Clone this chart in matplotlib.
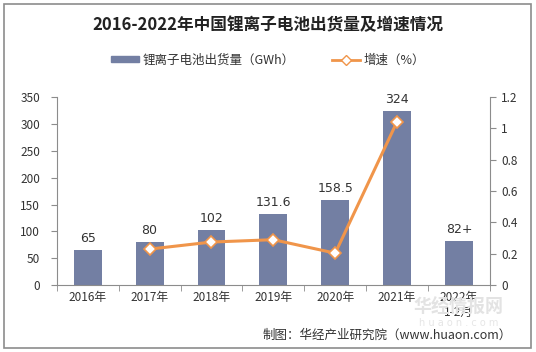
import matplotlib.pyplot as plt
from matplotlib.patches import Rectangle
from matplotlib.ticker import FuncFormatter

plt.switch_backend('agg')
plt.rcParams['font.family'] = ['Noto Sans CJK SC', 'DejaVu Sans']

# 数据
years = ['2016年', '2017年', '2018年', '2019年', '2020年', '2021年', '2022年\n1-2月']
shipments = [65, 80, 102, 131.6, 158.5, 324, 82]
shipment_labels = ['65', '80', '102', '131.6', '158.5', '324', '82+']
growth = [None, 0.23, 0.275, 0.29, 0.204, 1.044, None]

bar_color = '#737FA3'
line_color = '#F0954A'
axis_color = '#8C8C8C'
text_color = '#333333'

fig = plt.figure(figsize=(5.36, 3.52), dpi=100)
fig.patches.append(Rectangle((0.008, 0.01), 0.982, 0.98, transform=fig.transFigure,
                             fill=False, edgecolor='#8C8C8C', linewidth=1.2))

# 水印（放在最底层）
fig.text(0.855, 0.128, '华经情报网', ha='center', va='center', fontsize=13,
         fontweight='bold', color='#E3E3E3', zorder=0)
fig.text(0.855, 0.083, 'h u a o n . c o m', ha='center', va='center', fontsize=7,
         color='#E6E6E6', family=['DejaVu Sans'], zorder=0)

ax = fig.add_axes([0.106, 0.19, 0.808, 0.534])
ax.patch.set_alpha(0)
x = list(range(len(years)))
bars = ax.bar(x, shipments, width=0.45, color=bar_color, zorder=2)
for xi, v, lab in zip(x, shipments, shipment_labels):
    ax.text(xi, v + 10, lab, ha='center', va='bottom', fontsize=9, color=text_color,
            family=['DejaVu Sans'])

ax.set_xlim(-0.5, len(years) - 0.5)
ax.set_ylim(0, 350)
ax.set_yticks(range(0, 351, 50))
ax.set_xticks(x)
ax.set_xticklabels(years, fontsize=8.5, color=text_color, linespacing=1.25)
ax.set_xticks([i + 0.5 for i in range(-1, len(years))], minor=True)
ax.tick_params(axis='x', which='major', length=0, pad=4)
ax.tick_params(axis='x', which='minor', length=4, color=axis_color, direction='out')
ax.tick_params(axis='y', length=4, color=axis_color, labelsize=8.5, labelcolor=text_color, pad=8)
for s in ['top', 'right']:
    ax.spines[s].set_visible(False)
for s in ['left', 'bottom']:
    ax.spines[s].set_color(axis_color)

ax2 = ax.twinx()
gx = [xi for xi, g in zip(x, growth) if g is not None]
gy = [g for g in growth if g is not None]
ax2.plot(gx, gy, color=line_color, linewidth=2.2, marker='D', markersize=6,
         markerfacecolor='white', markeredgecolor=line_color, markeredgewidth=1.2, zorder=3)
ax2.set_ylim(0, 1.2)
ax2.set_yticks([0, 0.2, 0.4, 0.6, 0.8, 1.0, 1.2])
ax2.yaxis.set_major_formatter(FuncFormatter(lambda v, p: ('%.1f' % v).rstrip('0').rstrip('.')))
ax2.tick_params(axis='y', length=4, color=axis_color, labelsize=8.5, labelcolor=text_color, pad=4)
for s in ['top', 'left', 'bottom']:
    ax2.spines[s].set_visible(False)
ax2.spines['right'].set_color(axis_color)

fig.text(0.5, 0.93, '2016-2022年中国锂离子电池出货量及增速情况', ha='center', va='center',
         fontsize=12, fontweight='bold', color='#222222')

# 图例
bar_h = Rectangle((0, 0), 1, 1, color=bar_color)
line_h, = plt.plot([], [], color=line_color, linewidth=2, marker='D', markersize=5,
                   markerfacecolor='white', markeredgecolor=line_color)
fig.legend([bar_h, line_h], ['锂离子电池出货量（GWh）', '增速（%）'], loc='center',
           bbox_to_anchor=(0.5, 0.83), ncol=2, frameon=False, fontsize=9,
           handlelength=2.2, handleheight=0.35, columnspacing=3.0, handletextpad=0.3,
           labelcolor=text_color)

# 来源
fig.text(0.955, 0.048, '制图：华经产业研究院（www.huaon.com）', ha='right', va='center',
         fontsize=9, color=text_color)

fig.savefig('out.png', dpi=100)
